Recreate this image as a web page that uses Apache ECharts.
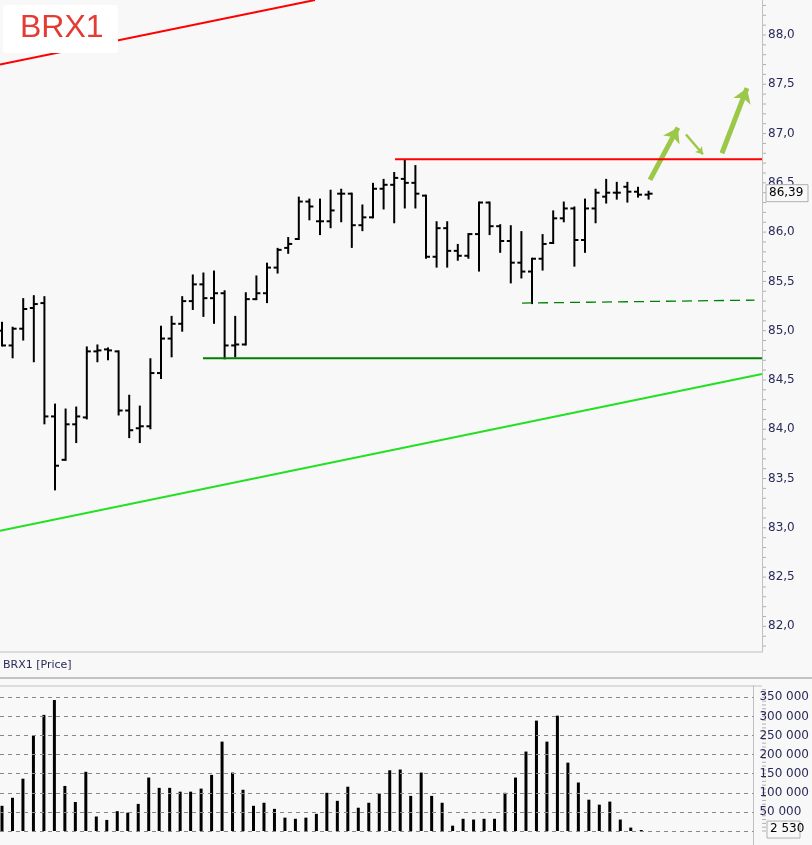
<!DOCTYPE html>
<html><head><meta charset="utf-8">
<script src="https://cdn.jsdelivr.net/npm/echarts@6/dist/echarts.min.js"></script>
<style>html,body{margin:0;padding:0;background:#f8f8f8}#c{width:812px;height:845px}</style>
</head><body><div id="c"></div>
<script>
const opens  = [85.00,84.85,85.02,85.23,85.28,84.13,83.69,84.05,84.12,84.79,84.81,84.79,84.19,84.01,84.03,84.57,84.92,85.07,85.30,85.47,85.33,85.38,84.85,84.86,85.32,85.38,85.64,85.84,85.93,86.31,86.11,86.11,86.39,86.39,86.07,86.15,86.44,86.48,86.54,86.50,86.37,85.75,86.04,85.81,85.76,85.98,86.30,86.06,85.91,85.69,85.60,85.73,85.89,86.14,86.24,85.92,86.24,86.36,86.40,86.46,86.41,86.38];
const highs  = [85.08,85.03,85.32,85.35,85.34,84.25,84.20,84.22,84.83,84.85,84.82,84.79,84.34,84.23,84.71,85.04,85.14,85.34,85.56,85.58,85.60,85.40,85.14,85.38,85.55,85.68,85.83,85.94,86.35,86.33,86.33,86.42,86.43,86.39,86.27,86.49,86.53,86.60,86.73,86.67,86.37,86.10,86.10,85.87,85.98,86.30,86.30,86.07,86.06,86.00,85.73,85.97,86.21,86.30,86.25,86.33,86.43,86.53,86.50,86.50,86.45,86.41];
const lows   = [84.85,84.73,84.91,84.69,84.06,83.39,83.69,83.87,84.11,84.69,84.71,84.15,83.92,83.87,84.01,84.52,84.74,85.00,85.22,85.15,85.08,84.72,84.74,84.86,85.32,85.29,85.59,85.79,85.93,86.13,85.98,86.05,86.11,85.85,86.02,86.15,86.24,86.10,86.25,86.25,85.74,85.65,85.65,85.72,85.74,85.61,85.98,85.80,85.49,85.54,85.28,85.62,85.89,86.11,85.66,85.80,86.10,86.30,86.34,86.31,86.36,86.34];
const closes = [84.85,85.02,85.22,85.27,84.13,83.63,84.05,84.13,84.79,84.80,84.80,84.19,83.99,84.03,84.57,84.92,85.07,85.30,85.47,85.33,85.38,84.85,84.86,85.32,85.38,85.64,85.82,85.88,86.31,86.26,86.11,86.22,86.39,86.07,86.15,86.44,86.48,86.55,86.50,86.39,85.75,86.04,85.81,85.76,85.98,86.30,86.06,85.91,85.69,85.60,85.73,85.88,86.14,86.24,85.92,86.24,86.40,86.40,86.40,86.41,86.38,86.39];
const volumes = [66000,87000,137000,249000,304000,343000,118000,76000,155000,38000,29000,52000,48000,71000,140000,113000,113000,103000,103000,111000,147000,234000,153000,108000,66000,74000,58000,35000,32000,35000,45000,100000,79000,116000,61000,74000,98000,159000,161000,92000,153000,92000,74000,14000,32000,30000,32000,32000,100000,140000,208000,289000,234000,302000,179000,127000,82000,69000,77000,30000,9000,2530];
const priceTicks = [82,82.5,83,83.5,84,84.5,85,85.5,86,86.5,87,87.5,88];
const volTicks = [50000,100000,150000,200000,250000,300000,350000];
const redTrend = [[-0.19,87.70],[29.53,88.355]];
const greenTrend = [[-0.19,82.97],[71.70,84.56]];
const resistance = [[37.08,86.74],[71.70,86.74]];
const support = [[18.96,84.72],[71.70,84.72]];
const supportDashed = [[49.06,85.28],[71.0,85.31]];
const arrowsBig = [[[61.13,86.53],[63.77,87.06]],[[67.92,86.80],[70.28,87.46]]];
const arrowSmall = [[[64.53,86.99],[66.13,86.79]]];
const lastPrice = 86.39, lastVol = 2530;

const ohlc = opens.map((o,i)=>[i,o,highs[i],lows[i],closes[i]]);
const vols = volumes.map((v,i)=>[i,v]);
const fmtP = v => v.toFixed(1).replace('.',',');
const fmtV = v => String(v).replace(/\B(?=(\d{3})+(?!\d))/g,' ');
const XMIN=-0.19, XMAX=71.70;
const axColor='#2a2a5a';
const chart = echarts.init(document.getElementById('c'));
chart.setOption({
  backgroundColor:'#f8f8f8', animation:false,
  grid:[{left:0,top:0,width:762,height:652,show:false},
        {left:0,top:686,width:762,height:159,show:false}],
  xAxis:[{type:'value',gridIndex:0,min:XMIN,max:XMAX,show:false},
         {type:'value',gridIndex:1,min:XMIN,max:XMAX,show:false}],
  yAxis:[{type:'value',gridIndex:0,position:'right',min:81.74,max:88.355,splitLine:{show:false},
          axisLine:{show:true,onZero:false,lineStyle:{color:'#c0c0c0'}},axisTick:{show:false},
          axisLabel:{customValues:priceTicks,formatter:fmtP,color:axColor,fontSize:12,fontFamily:'DejaVu Sans',margin:6}},
         {type:'value',gridIndex:1,position:'right',min:-36600,max:379600,splitLine:{show:false},
          axisLine:{show:true,onZero:false,lineStyle:{color:'#c0c0c0'}},axisTick:{show:false},
          axisLabel:{customValues:volTicks,formatter:fmtV,color:axColor,fontSize:12,fontFamily:'DejaVu Sans',margin:6}}],
  series:[
    {type:'line',xAxisIndex:0,yAxisIndex:0,data:greenTrend,symbol:'none',lineStyle:{color:'#22e022',width:2},silent:true},
    {type:'line',xAxisIndex:0,yAxisIndex:0,data:redTrend,symbol:'none',lineStyle:{color:'#ff0000',width:2},silent:true},
    {type:'line',xAxisIndex:0,yAxisIndex:0,data:resistance,symbol:'none',lineStyle:{color:'#ff0000',width:2},silent:true},
    {type:'line',xAxisIndex:0,yAxisIndex:0,data:support,symbol:'none',lineStyle:{color:'#008000',width:2},silent:true},
    {type:'line',xAxisIndex:0,yAxisIndex:0,data:supportDashed,symbol:'none',lineStyle:{color:'#008000',width:1.3,type:[10,6]},silent:true},
    {type:'custom',xAxisIndex:0,yAxisIndex:0,data:ohlc,clip:true,
     renderItem:(p,api)=>{
       const x=api.coord([api.value(0),0])[0];
       const yo=api.coord([0,api.value(1)])[1], yh=api.coord([0,api.value(2)])[1],
             yl=api.coord([0,api.value(3)])[1], yc=api.coord([0,api.value(4)])[1];
       const st={stroke:'#000',lineWidth:2};
       return {type:'group',children:[
         {type:'line',shape:{x1:x,y1:yh-1,x2:x,y2:yl+1},style:st},
         {type:'line',shape:{x1:x-4,y1:yo,x2:x,y2:yo},style:st},
         {type:'line',shape:{x1:x,y1:yc,x2:x+4,y2:yc},style:st}]};
     }},
    {type:'lines',coordinateSystem:'cartesian2d',xAxisIndex:0,yAxisIndex:0,data:arrowsBig.map(c=>({coords:c})),
     symbol:['none','arrow'],symbolSize:14,lineStyle:{color:'#9cc84a',width:5,opacity:1}},
    {type:'lines',coordinateSystem:'cartesian2d',xAxisIndex:0,yAxisIndex:0,data:arrowSmall.map(c=>({coords:c})),
     symbol:['none','arrow'],symbolSize:7,lineStyle:{color:'#9cc84a',width:2.5,opacity:1}},
    {type:'custom',xAxisIndex:1,yAxisIndex:1,data:vols,
     renderItem:(p,api)=>{
       const a=api.coord([api.value(0),api.value(1)]), b=api.coord([api.value(0),0]);
       return {type:'line',shape:{x1:a[0],y1:a[1],x2:b[0],y2:b[1]},style:{stroke:'#000',lineWidth:3}};
     },
     markLine:{silent:true,symbol:'none',label:{show:false},lineStyle:{color:'#888',type:[4,4],width:1},
       data:[0].concat(volTicks).map(v=>({yAxis:v}))}}
  ]
});
const g=[
  {type:'line',shape:{x1:0,y1:652,x2:762,y2:652},style:{stroke:'#c0c0c0',lineWidth:1}},
  {type:'line',shape:{x1:0,y1:686,x2:762,y2:686},style:{stroke:'#c0c0c0',lineWidth:1}},
  {type:'rect',shape:{x:3,y:5,width:115,height:48,r:3},style:{fill:'#ffffff'},z:100},
  {type:'text',x:20,y:12,style:{text:'BRX1',fill:'#e53b35',fontSize:32,fontFamily:'Liberation Sans'},z:101},
  {type:'line',shape:{x1:0,y1:678,x2:812,y2:678},style:{stroke:'#b0b0b0',lineWidth:1.5}},
  {type:'text',x:3,y:660,style:{text:'BRX1 [Price]',fill:'#2a2a5a',fontSize:11,fontFamily:'DejaVu Sans'}}
];
for(let k=818;k<=884;k++){const y=chart.convertToPixel({yAxisIndex:0},k/10);
  g.push({type:'line',shape:{x1:762,y1:y,x2:766,y2:y},style:{stroke:'#b0b0b0',lineWidth:1}});}
for(let v=0;v<=370000;v+=10000){const y=chart.convertToPixel({yAxisIndex:1},v);
  g.push({type:'line',shape:{x1:762,y1:y,x2:766,y2:y},style:{stroke:'#b0b0b0',lineWidth:1}});}
const yp=chart.convertToPixel({yAxisIndex:0},lastPrice), yv=chart.convertToPixel({yAxisIndex:1},lastVol);
g.push({type:'rect',shape:{x:766,y:yp-9,width:42,height:17},style:{fill:'#f8f8f8',stroke:'#b0b0b0'},z:100});
g.push({type:'text',x:769,y:yp-7,style:{text:lastPrice.toFixed(2).replace('.',','),fill:'#000',fontSize:12,fontFamily:'DejaVu Sans'},z:101});
g.push({type:'rect',shape:{x:767,y:yv-9,width:33,height:17},style:{fill:'#f8f8f8',stroke:'#b0b0b0'},z:100});
g.push({type:'text',x:770,y:yv-7,style:{text:fmtV(lastVol),fill:'#000',fontSize:12,fontFamily:'DejaVu Sans'},z:101});
chart.setOption({graphic:[{type:'group',id:'overlay',children:g}]});
</script></body></html>
